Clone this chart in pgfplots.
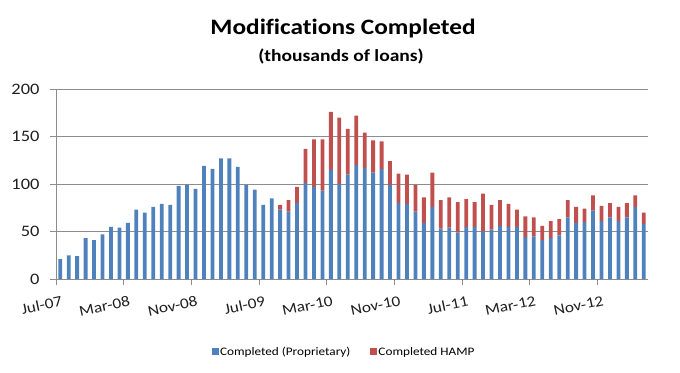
\documentclass[border=0pt]{standalone}
\usepackage{pgfplots}
\usepackage{pgfplotstable}
\pgfplotsset{compat=1.18}
\usepackage{fontspec}
\setmainfont{Carlito}[FakeStretch=1.15, Ligatures=NoCommon]
\definecolor{cblue}{HTML}{4F81BD}
\definecolor{cred}{HTML}{C0504D}
\definecolor{cgrid}{HTML}{8C8C8C}
\definecolor{ctext}{HTML}{1F1F1F}
\pgfplotstableread{
x blue red
0 21 0
1 25 0
2 24 0
3 43 0
4 41 0
5 47 0
6 55 0
7 54 0
8 59 0
9 73 0
10 70 0
11 76 0
12 79 0
13 78 0
14 98 0
15 99 0
16 95 0
17 119 0
18 116 0
19 127 0
20 127 0
21 118 0
22 99 0
23 94 0
24 78 0
25 85 0
26 73 5
27 71 12
28 80 17
29 101 36
30 97 50
31 93 54
32 115 61
33 100 70
34 110 48
35 120 52
36 117 37
37 112 34
38 116 29
39 99 25
40 80 31
41 79 31
42 71 28
43 59 27
44 76 36
45 53 30
46 54 32
47 49 32
48 55 29
49 55 26
50 50 40
51 52 26
52 56 27
53 55 24
54 55 18
55 44 22
56 45 20
57 41 15
58 43 18
59 46 17
60 65 18
61 59 17
62 60 14
63 72 16
64 61 16
65 65 15
66 61 15
67 65 15
68 76 12
69 58 12
}\data
\begin{document}
\begin{tikzpicture}
\begin{axis}[
  scale only axis,
  width=592pt, height=190pt,
  ybar stacked,
  bar width=0.45,
  xmin=-0.5, xmax=69.5,
  ymin=0, ymax=200,
  ytick={0,50,100,150,200},
  xtick={-0.5,7.5,15.5,23.5,31.5,39.5,47.5,55.5,63.5},
  xticklabels={Jul-07,Mar-08,Nov-08,Jul-09,Mar-10,Nov-10,Jul-11,Mar-12,Nov-12},
  axis x line*=bottom,
  axis y line*=left,
  axis line style={cgrid, line width=0.8pt},
  tick align=outside,
  tick style={cgrid, line width=0.8pt},
  major tick length=6pt,
  ymajorgrids,
  grid style={cgrid, line width=0.8pt},
  /pgf/number format/assume math mode=true,
  tick label style={font=\fontsize{16}{18}\selectfont, text=ctext},
  yticklabel style={xshift=-7pt},
  xticklabel style={font=\fontsize{15}{17}\selectfont, rotate=12, anchor=north east, xshift=6pt, yshift=-8pt},
  legend style={at={(0.486,-0.384)}, anchor=center, draw=none,
    legend columns=2, font=\fontsize{11.5}{13}\selectfont,
    /tikz/every even column/.style={column sep=18pt},
    nodes={inner sep=1.5pt}},
  legend image code/.code={\fill[#1] (0pt,-3.5pt) rectangle (7pt,3.5pt);},
  clip=false,
]
\addplot[fill=cblue, draw=none] table[x=x,y=blue] {\data};
\addplot[fill=cred, draw=none] table[x=x,y=red] {\data};
\legend{Completed (Proprietary),Completed HAMP}
\end{axis}
\node[anchor=base, font=\fontsize{22}{24}\selectfont\bfseries, text=black]
  at ([xshift=287pt,yshift=244pt]current axis.south west) {Modifications Completed};
\node[anchor=base, font=\fontsize{17}{19}\selectfont\bfseries, text=black]
  at ([xshift=285pt,yshift=217.3pt]current axis.south west) {(thousands of loans)};
\pgfresetboundingbox
\path ([xshift=-56pt,yshift=-93pt]current axis.south west) rectangle ([xshift=32pt,yshift=89pt]current axis.north east);
\end{tikzpicture}
\end{document}
